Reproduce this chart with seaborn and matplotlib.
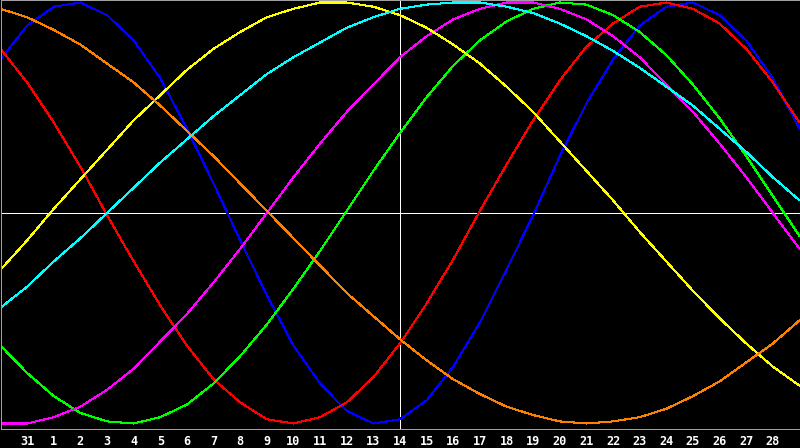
import numpy as np
import pandas as pd
import seaborn as sns
import matplotlib.pyplot as plt

# day of month for each sample (one per day, Jan 30 .. Mar 1)
day_labels = ['30', '31'] + [str(d) for d in range(1, 29)] + ['1']
today_index = 15  # the 14th

# cycle values, one per day, range -1..1
physical = [0.73, 0.89, 0.98, 1.00, 0.94, 0.82, 0.64, 0.40, 0.14, -0.13, -0.39,
            -0.63, -0.81, -0.94, -1.00, -0.98, -0.89, -0.73, -0.52, -0.27, -0.01,
            0.27, 0.52, 0.73, 0.89, 0.98, 1.00, 0.94, 0.82, 0.64, 0.40]
emotional = [0.78, 0.62, 0.43, 0.22, -0.01, -0.23, -0.44, -0.63, -0.79, -0.90, -0.98,
             -1.00, -0.97, -0.90, -0.78, -0.62, -0.43, -0.22, 0.01, 0.23, 0.44,
             0.63, 0.79, 0.90, 0.98, 1.00, 0.97, 0.90, 0.78, 0.62, 0.43]
intellectual = [-0.63, -0.76, -0.87, -0.95, -0.99, -1.00, -0.97, -0.91, -0.81, -0.68, -0.53,
                -0.36, -0.18, 0.01, 0.20, 0.38, 0.55, 0.70, 0.82, 0.91, 0.97,
                1.00, 0.99, 0.94, 0.86, 0.75, 0.61, 0.45, 0.27, 0.08, -0.11]
intuitive = [-1.00, -1.00, -0.97, -0.92, -0.84, -0.74, -0.61, -0.48, -0.33, -0.17, 0.00,
             0.17, 0.33, 0.48, 0.61, 0.74, 0.84, 0.92, 0.97, 1.00, 1.00,
             0.97, 0.92, 0.84, 0.74, 0.61, 0.48, 0.33, 0.17, 0.00, -0.17]
aesthetic = [-0.27, -0.13, 0.02, 0.16, 0.30, 0.44, 0.56, 0.68, 0.78, 0.86, 0.93,
             0.97, 1.00, 1.00, 0.98, 0.94, 0.88, 0.80, 0.71, 0.60, 0.48,
             0.34, 0.20, 0.06, -0.09, -0.23, -0.37, -0.50, -0.62, -0.73, -0.82]
awareness = [0.97, 0.93, 0.87, 0.80, 0.71, 0.62, 0.51, 0.39, 0.27, 0.14, 0.01,
             -0.12, -0.25, -0.38, -0.49, -0.60, -0.70, -0.79, -0.86, -0.92, -0.96,
             -0.99, -1.00, -0.99, -0.97, -0.93, -0.87, -0.80, -0.71, -0.62, -0.51]
spiritual = [-0.45, -0.35, -0.23, -0.12, 0.00, 0.12, 0.24, 0.35, 0.46, 0.56, 0.66,
             0.74, 0.81, 0.88, 0.93, 0.97, 0.99, 1.00, 1.00, 0.98, 0.95,
             0.90, 0.84, 0.77, 0.69, 0.60, 0.51, 0.40, 0.29, 0.17, 0.06]

cycles = {
    'Physical': (physical, '#0000ff'),
    'Emotional': (emotional, '#ff0000'),
    'Intellectual': (intellectual, '#00ff00'),
    'Intuitive': (intuitive, '#ff00ff'),
    'Aesthetic': (aesthetic, '#ffff00'),
    'Awareness': (awareness, '#ff8000'),
    'Spiritual': (spiritual, '#00ffff'),
}

rows = []
for name, (values, _) in cycles.items():
    for i, v in enumerate(values):
        rows.append({'Day': i, 'Value': v, 'Cycle': name})
df = pd.DataFrame(rows)
palette = {name: c for name, (_, c) in cycles.items()}

sns.set_theme(style='white')
plt.rcParams['figure.facecolor'] = 'black'
plt.rcParams['axes.facecolor'] = 'black'

W, H = 800, 448
fig = plt.figure(figsize=(W / 100, H / 100), dpi=100)
# plot area: pixels 0.5..799.5 across, 0.5..428.5 down
ax = fig.add_axes([0.5 / W, (H - 428.5) / H, 799 / W, 428 / H])

# reference lines: zero line and today
ax.axhline(0, color='white', linewidth=0.72, antialiased=False, zorder=1)
ax.axvline(today_index, color='white', linewidth=0.72, antialiased=False, zorder=1)

sns.lineplot(data=df, x='Day', y='Value', hue='Cycle', palette=palette,
             linewidth=0.75, antialiased=False, legend=False, ax=ax, zorder=2)

n = len(day_labels)
ax.set_xlim(0, n - 1)
ax.set_ylim(-1.0238, 1.0095)

tick_pos = list(range(1, n - 1))
ax.set_xticks(tick_pos)
ax.set_xticklabels([day_labels[i] for i in tick_pos], color='white',
                   fontsize=8.6, fontweight='bold', family='DejaVu Sans Mono')
ax.set_yticks([])
ax.tick_params(axis='x', direction='in', length=3.6, width=0.72, color='white', pad=4.5)
ax.set_xlabel('')
ax.set_ylabel('')

for side in ['left', 'right', 'top', 'bottom']:
    ax.spines[side].set_visible(True)
    ax.spines[side].set_color('#a0a0a0')
    ax.spines[side].set_linewidth(0.72)

fig.savefig('out.png', dpi=100, facecolor='black')
